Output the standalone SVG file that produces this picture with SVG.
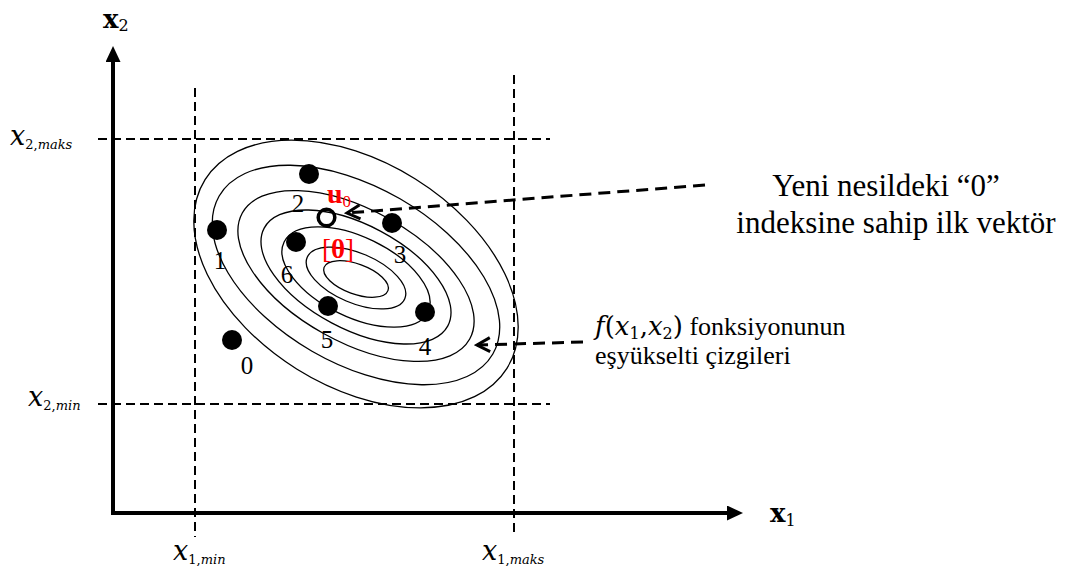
<svg xmlns="http://www.w3.org/2000/svg" width="1075" height="566" viewBox="0 0 1075 566">
<style>
.axis{stroke:#000;stroke-width:4;fill:none}
.guide{stroke:#000;stroke-width:2;stroke-dasharray:9 5;fill:none}
.contour{stroke:#000;stroke-width:1.3;fill:none}
.dot{fill:#000}
.ptr{stroke:#000;stroke-width:3;stroke-dasharray:12 7;fill:none}
.num{font-family:"Liberation Serif",serif;font-size:25px;fill:#000}
.txt{font-family:"Liberation Serif",serif;fill:#000}
.math{font-family:"DejaVu Serif",serif;font-style:italic;fill:#000}
.up{font-style:normal}
.bold{font-family:"DejaVu Serif",serif;font-weight:bold;fill:#000}
.red{fill:#f00}
</style>
<defs>
<marker id="tri" viewBox="0 0 16 15" refX="2" refY="7.5" markerWidth="16" markerHeight="15" markerUnits="userSpaceOnUse" orient="auto">
<path d="M0,0 L16,7.5 L0,15 z" fill="#000"/>
</marker>
<marker id="open" viewBox="-16 -9 19 18" refX="0" refY="0" markerWidth="19" markerHeight="18" markerUnits="userSpaceOnUse" orient="auto">
<path d="M-13,-7 L0,0 L-13,7" fill="none" stroke="#000" stroke-width="3" stroke-dasharray="none"/>
</marker>
</defs>

<g id="guides">
<line class="guide" x1="195" y1="88" x2="195" y2="537"/>
<line class="guide" x1="514" y1="75" x2="514" y2="537"/>
<line class="guide" x1="98" y1="139" x2="550" y2="139"/>
<line class="guide" x1="98" y1="404" x2="550" y2="404"/>
</g>

<g id="axes">
<line class="axis" x1="113" y1="515" x2="113" y2="60" marker-end="url(#tri)"/>
<line class="axis" x1="111" y1="513" x2="729" y2="513" marker-end="url(#tri)"/>
<text class="bold" x="103" y="28" font-size="26">x<tspan font-size="16" dy="3" font-weight="normal">2</tspan></text>
<text class="bold" x="770" y="522" font-size="26">x<tspan font-size="16" dy="4" font-weight="normal">1</tspan></text>
</g>

<g id="ticks">
<text class="math" x="10" y="145" font-size="27">x<tspan class="up" font-size="13" dy="4">2,</tspan><tspan font-size="13">maks</tspan></text>
<text class="math" x="28" y="406" font-size="27">x<tspan class="up" font-size="13" dy="4">2,</tspan><tspan font-size="13">min</tspan></text>
<text class="math" x="173" y="560" font-size="27">x<tspan class="up" font-size="13" dy="4">1,</tspan><tspan font-size="13">min</tspan></text>
<text class="math" x="482" y="560" font-size="27">x<tspan class="up" font-size="13" dy="4">1,</tspan><tspan font-size="13">maks</tspan></text>
</g>

<g id="contours">
<ellipse class="contour" cx="356" cy="274" rx="178" ry="112" transform="rotate(32 356 274)"/>
<ellipse class="contour" cx="356" cy="275" rx="158" ry="88" transform="rotate(30 356 275)"/>
<ellipse class="contour" cx="356" cy="276" rx="130" ry="66" transform="rotate(29 356 276)"/>
<ellipse class="contour" cx="356" cy="277" rx="104" ry="52" transform="rotate(28 356 277)"/>
<ellipse class="contour" cx="356" cy="277" rx="80" ry="40" transform="rotate(26 356 277)"/>
<ellipse class="contour" cx="356" cy="278" rx="53" ry="25" transform="rotate(23 356 278)"/>
<ellipse class="contour" cx="356" cy="279" rx="34" ry="15" transform="rotate(20 356 279)"/>
</g>

<g id="p0"><circle class="dot" cx="232" cy="340" r="10"/><text class="num" x="247" y="374" text-anchor="middle">0</text></g>
<g id="p1"><circle class="dot" cx="217" cy="230" r="10"/><text class="num" x="220" y="269" text-anchor="middle">1</text></g>
<g id="p2"><circle class="dot" cx="309" cy="174" r="10"/><text class="num" x="298" y="212" text-anchor="middle">2</text></g>
<g id="p3"><circle class="dot" cx="392" cy="223" r="10"/><text class="num" x="400" y="263" text-anchor="middle">3</text></g>
<g id="p4"><circle class="dot" cx="425" cy="312" r="10"/><text class="num" x="425" y="355" text-anchor="middle">4</text></g>
<g id="p5"><circle class="dot" cx="328" cy="306" r="10"/><text class="num" x="327" y="348" text-anchor="middle">5</text></g>
<g id="p6"><circle class="dot" cx="296" cy="242" r="10"/><text class="num" x="287" y="283" text-anchor="middle">6</text></g>

<g id="u0">
<circle cx="326.5" cy="217.5" r="8.3" fill="none" stroke="#000" stroke-width="3.5"/>
<text class="txt red" x="327" y="203" font-size="28" font-weight="bold">u<tspan font-size="17" dy="4" font-weight="normal">0</tspan></text>
</g>

<g id="theta">
<text class="txt red" x="338" y="258" font-size="27" text-anchor="middle">[<tspan font-weight="bold">θ</tspan>]</text>
</g>

<g id="connectors">
<line class="ptr" x1="705" y1="185" x2="347" y2="213" marker-end="url(#open)"/>
<line class="ptr" x1="583" y1="342" x2="477" y2="345" marker-end="url(#open)"/>
</g>

<g id="note1">
<text class="txt" x="886" y="196" font-size="31" text-anchor="middle">Yeni nesildeki “0”</text>
<text class="txt" x="896" y="233" font-size="31" text-anchor="middle">indeksine sahip ilk vektör</text>
</g>

<g id="note2">
<text x="595" y="335" font-size="26"><tspan class="math">f</tspan><tspan class="math up">(</tspan><tspan class="math">x</tspan><tspan class="math up" font-size="16" dy="4">1</tspan><tspan class="math up" dy="-4">,</tspan><tspan class="math">x</tspan><tspan class="math up" font-size="16" dy="4">2</tspan><tspan class="math up" dy="-4">)</tspan><tspan class="txt"> fonksiyonunun</tspan></text>
<text class="txt" x="595" y="364" font-size="26">eşyükselti çizgileri</text>
</g>
</svg>
